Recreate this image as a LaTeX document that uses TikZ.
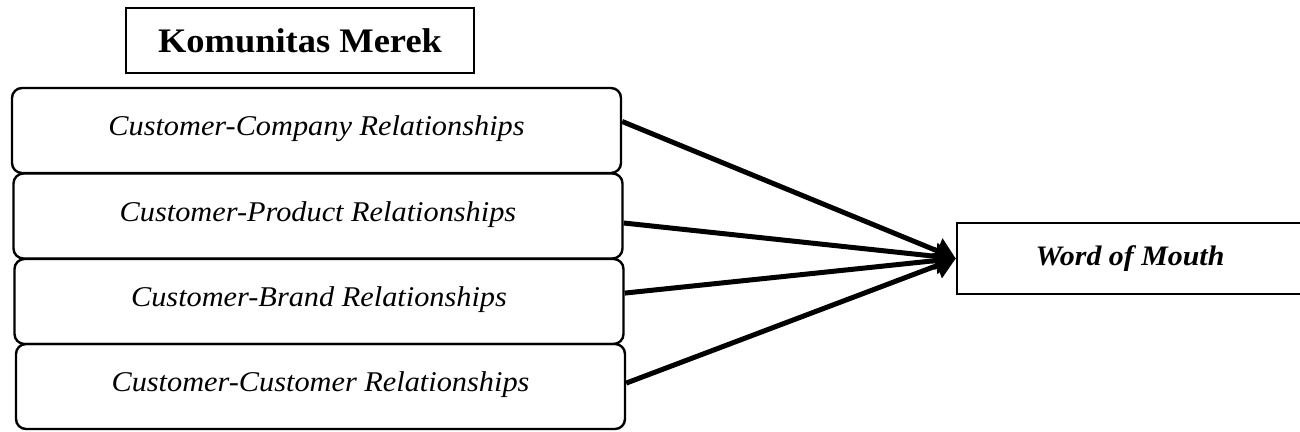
\documentclass[tikz,border=0pt]{standalone}
\usepackage{fontspec}
\setmainfont[FakeStretch=1.06]{Liberation Serif}
\usetikzlibrary{arrows.meta}
\begin{document}
\begin{tikzpicture}[x=0.5pt,y=-0.5pt,
  titlebox/.style={draw,line width=1.2pt,minimum width=174pt,minimum height=32.5pt,inner sep=0pt,font=\fontsize{17.2}{19}\selectfont\bfseries},
  relbox/.style={draw,line width=1.2pt,rounded corners=5pt,minimum width=304.5pt,minimum height=42.5pt,inner sep=0pt,text depth=4.8pt,font=\fontsize{14.3}{16}\selectfont\itshape},
  wombox/.style={draw,line width=1.2pt,minimum width=173pt,minimum height=35.5pt,inner sep=0pt,font=\fontsize{14.1}{16}\selectfont\bfseries\itshape},
  conn/.style={line width=2.5pt,-{Triangle[length=10pt,width=13pt]}}]
\useasboundingbox (0,0) rectangle (1300,432);
\clip (0,0) rectangle (1300,432);
\node[titlebox] (title) at (300,40.5) {Komunitas Merek};
\node[relbox] (b1) at (316.5,130.5) {Customer-Company Relationships};
\node[relbox] (b2) at (318,216) {Customer-Product Relationships};
\node[relbox] (b3) at (319,301.5) {Customer-Brand Relationships};
\node[relbox] (b4) at (320.5,386.5) {Customer-Customer Relationships};
\node[wombox] (wom) at (1130,258.5) {Word of Mouth};
\draw[conn] ([yshift=4.5pt]b1.east) -- (wom.west);
\draw[conn] ([yshift=-3.5pt]b2.east) -- (wom.west);
\draw[conn] ([yshift=4.2pt]b3.east) -- (wom.west);
\draw[conn] ([yshift=1.7pt]b4.east) -- (wom.west);
\end{tikzpicture}
\end{document}
